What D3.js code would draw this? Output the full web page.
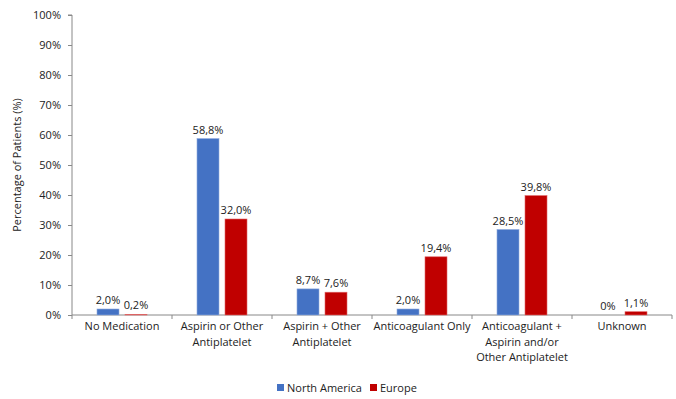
<!DOCTYPE html>
<html><head><meta charset="utf-8">
<script src="https://cdn.jsdelivr.net/npm/d3@7"></script>
<style>body{margin:0;background:#fff}svg{display:block}text{font-family:"Open Sans",sans-serif;fill:#222}</style>
</head><body><svg id="c" width="676" height="399"></svg>
<script>
const categories = [["No Medication"],["Aspirin or Other","Antiplatelet"],["Aspirin + Other","Antiplatelet"],["Anticoagulant Only"],["Anticoagulant +","Aspirin and/or","Other Antiplatelet"],["Unknown"]];
const northAmerica = [2.0, 58.8, 8.7, 2.0, 28.5, 0];
const europe = [0.2, 32.0, 7.6, 19.4, 39.8, 1.1];
const naLabels = ["2,0%","58,8%","8,7%","2,0%","28,5%","0%"];
const euLabels = ["0,2%","32,0%","7,6%","19,4%","39,8%","1,1%"];
const yTicks = [0,10,20,30,40,50,60,70,80,90,100];
const seriesNames = ["North America","Europe"];
const colors = ["#4472C4","#C00000"];

const svg = d3.select("#c");
const m = {l:72, r:4, t:15, b:84};
const W = 676, H = 399;
const FS = "11px";
const x = d3.scaleBand().domain(d3.range(categories.length)).range([m.l, W-m.r]);
const y = d3.scaleLinear().domain([0,100]).range([H-m.b, m.t]);
const bw = 22, gap = 6;

// y axis
const ya = svg.append("g").attr("transform",`translate(${m.l},0)`)
  .call(d3.axisLeft(y).tickValues(yTicks).tickFormat(d=>d+"%").tickSize(4).tickPadding(7));
ya.select(".domain").attr("stroke","#888").attr("d",`M-4,${y(100)}H0V${y(0)}`);
ya.selectAll(".tick line").attr("stroke","#888");
ya.selectAll(".tick text").style("font-size",FS).attr("fill","#222").style("font-family","'Open Sans',sans-serif");

// x axis
const xa = svg.append("g").attr("transform",`translate(0,${y(0)})`);
xa.append("line").attr("x1",m.l).attr("x2",W-m.r).attr("stroke","#888");
const bounds = d3.range(categories.length+1).map(i=> i<categories.length ? x(i) : x(categories.length-1)+x.bandwidth());
xa.selectAll("line.t").data(bounds).join("line").attr("class","t")
  .attr("x1",d=>d).attr("x2",d=>d).attr("y1",0).attr("y2",4).attr("stroke","#888");
categories.forEach((lines,i)=>{
  lines.forEach((ln,j)=>xa.append("text").attr("text-anchor","middle")
    .attr("x",x(i)+x.bandwidth()/2).attr("y",15+j*15.5).style("font-size",FS).text(ln));
});

// bars
const series = [northAmerica, europe];
const labels = [naLabels, euLabels];
series.forEach((vals,s)=>{
  const g = svg.append("g");
  vals.forEach((v,i)=>{
    const cx = x(i)+x.bandwidth()/2;
    const bx = s===0 ? cx-gap/2-bw : cx+gap/2;
    if (v>0) g.append("rect").attr("x",bx).attr("y",y(v)).attr("width",bw).attr("height",y(0)-y(v))
      .attr("fill",colors[s]).attr("stroke",s===0?"#8FAADC":"#E06666").attr("stroke-width",0.6);
    g.append("text").attr("x",bx+bw/2).attr("y",y(v)-5).attr("text-anchor","middle").style("font-size",FS).text(labels[s][i]);
  });
});

// y label
svg.append("text").attr("transform",`translate(21,${(y(0)+y(100))/2}) rotate(-90)`).attr("text-anchor","middle")
  .style("font-size",FS).text("Percentage of Patients (%)");

// legend
const lg = svg.append("g").attr("transform","translate(277,388)");
const lx = [0, 93];
seriesNames.forEach((n,i)=>{
  lg.append("rect").attr("x",lx[i]).attr("y",-4).attr("width",7).attr("height",7).attr("fill",colors[i]);
  lg.append("text").attr("x",lx[i]+10).attr("y",4).style("font-size",FS).text(n);
});
</script></body></html>
